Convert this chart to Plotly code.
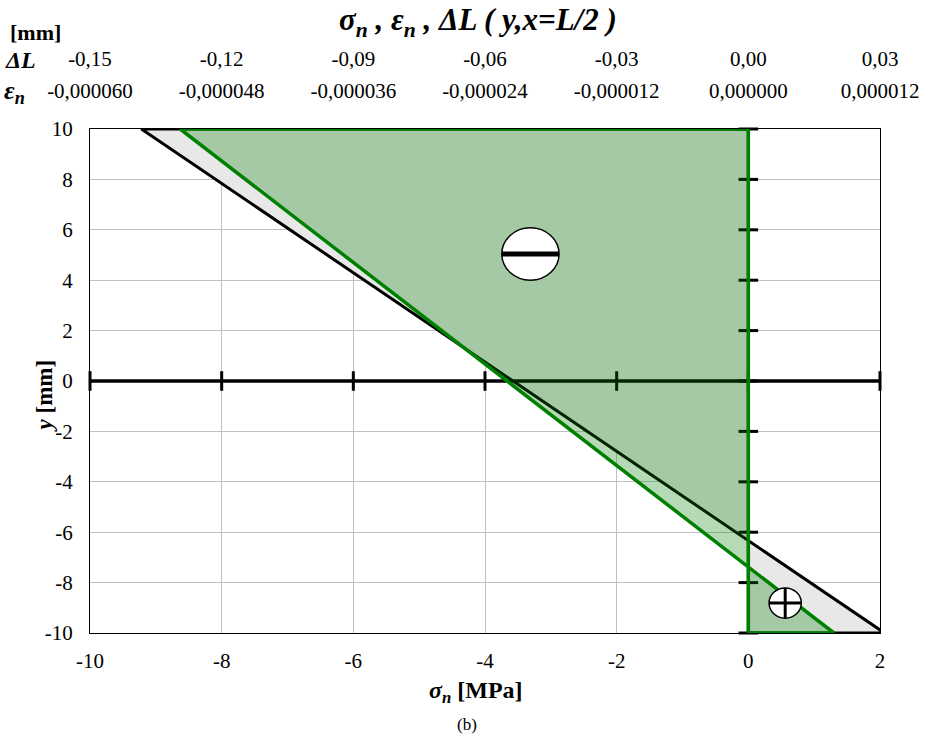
import plotly.graph_objects as go

# --- section geometry and stress values -----------------------------------
y_fibres = [10, -10]                 # top / bottom fibre [mm]
sigma_black = [-9.22, 2.07]          # normal stress, black solution [MPa]
sigma_green = [-8.63, 1.30]          # normal stress, green solution [MPa]

# --- axis ticks ------------------------------------------------------------
x_ticks = [-10, -8, -6, -4, -2, 0, 2]
x_labels = ["-10", "-8", "-6", "-4", "-2", "0", "2"]
y_ticks = [10, 8, 6, 4, 2, 0, -2, -4, -6, -8, -10]
y_labels = ["10", "8", "6", "4", "2", "0", "-2", "-4", "-6", "-8", "-10"]
dl_ticks = [-0.15, -0.12, -0.09, -0.06, -0.03, 0.00, 0.03]
dl_labels = ["-0,15", "-0,12", "-0,09", "-0,06", "-0,03", "0,00", "0,03"]
eps_ticks = [-0.000060, -0.000048, -0.000036, -0.000024, -0.000012, 0.0, 0.000012]
eps_labels = ["-0,000060", "-0,000048", "-0,000036", "-0,000024",
              "-0,000012", "0,000000", "0,000012"]

# sign markers (centre x, centre y, half-width, half-height)
minus_sign = (-3.31, 5.04, 0.435, 1.04)
plus_sign = (0.56, -8.81, 0.245, 0.60)

FONT = "Liberation Serif, Times New Roman, serif"
GREEN = "#008000"


def stress_polygon(sig):
    # closed outline: axis at top -> top fibre -> bottom fibre -> axis at bottom
    xs = [0, sig[0], sig[1], 0, 0]
    ys = [y_fibres[0], y_fibres[0], y_fibres[1], y_fibres[1], y_fibres[0]]
    return xs, ys


fig = go.Figure()

bx, by = stress_polygon(sigma_black)
fig.add_trace(go.Scatter(x=bx, y=by, mode="lines", fill="toself",
                         fillcolor="#e8e8e8",
                         line=dict(color="black", width=3),
                         hoverinfo="skip", showlegend=False))

# neutral x-axis through y = 0 with crossing ticks
fig.add_trace(go.Scatter(x=[x_ticks[0], x_ticks[-1]], y=[0, 0], mode="lines",
                         line=dict(color="black", width=3.5),
                         hoverinfo="skip", showlegend=False))
fig.add_trace(go.Scatter(x=x_ticks, y=[0] * len(x_ticks), mode="markers",
                         marker=dict(symbol="line-ns", size=14,
                                     line=dict(color="black", width=3)),
                         cliponaxis=False, hoverinfo="skip", showlegend=False))
# vertical axis through sigma = 0 with crossing ticks
fig.add_trace(go.Scatter(x=[0] * len(y_ticks), y=y_ticks, mode="markers",
                         marker=dict(symbol="line-ew", size=14,
                                     line=dict(color="black", width=3)),
                         cliponaxis=False, hoverinfo="skip", showlegend=False))

gx, gy = stress_polygon(sigma_green)
fig.add_trace(go.Scatter(x=gx, y=gy, mode="lines", fill="toself",
                         fillcolor="rgba(0,128,0,0.29)",
                         line=dict(color=GREEN, width=3.5),
                         hoverinfo="skip", showlegend=False))

# invisible carriers for the two upper scales
fig.add_trace(go.Scatter(x=dl_ticks, y=[0] * len(dl_ticks), xaxis="x2",
                         mode="markers", marker=dict(opacity=0),
                         hoverinfo="skip", showlegend=False))
fig.add_trace(go.Scatter(x=eps_ticks, y=[0] * len(eps_ticks), xaxis="x3",
                         mode="markers", marker=dict(opacity=0),
                         hoverinfo="skip", showlegend=False))

# sign circles
shapes = []
cx, cy, rx, ry = minus_sign
shapes.append(dict(type="circle", xref="x", yref="y", x0=cx - rx, x1=cx + rx,
                   y0=cy - ry, y1=cy + ry, fillcolor="white",
                   line=dict(color="black", width=1.5)))
shapes.append(dict(type="line", xref="x", yref="y", x0=cx - rx, x1=cx + rx,
                   y0=cy, y1=cy, line=dict(color="black", width=5)))
cx, cy, rx, ry = plus_sign
shapes.append(dict(type="circle", xref="x", yref="y", x0=cx - rx, x1=cx + rx,
                   y0=cy - ry, y1=cy + ry, fillcolor="white",
                   line=dict(color="black", width=1.5)))
shapes.append(dict(type="line", xref="x", yref="y", x0=cx - rx, x1=cx + rx,
                   y0=cy, y1=cy, line=dict(color="black", width=3)))
shapes.append(dict(type="line", xref="x", yref="y", x0=cx, x1=cx,
                   y0=cy - ry, y1=cy + ry, line=dict(color="black", width=3)))


def label(text, x, y, size, xanchor="center", angle=0):
    return dict(text=text, xref="paper", yref="paper", x=x, y=y,
                xanchor=xanchor, yanchor="middle", textangle=angle,
                showarrow=False, font=dict(family=FONT, size=size, color="black"))


annotations = [
    label("<b><i>σ<sub>n</sub> , ε<sub>n</sub> , ΔL ( y,x=L/2 )</i></b>",
          0.491, 0.9653, 31),
    label("<b>[mm]</b>", -0.104, 0.9479, 22, xanchor="left"),
    label("<b><i>ΔL</i></b>", -0.110, 0.9052, 24, xanchor="left"),
    label("<b><i>ε<sub>n</sub></i></b>", -0.111, 0.8547, 26, xanchor="left"),
    label("<b><i>σ<sub>n</sub></i> [MPa]</b>", 0.489, -0.093, 24),
    label("(b)", 0.477, -0.1438, 17),
    label("<b><i>y</i> [mm]</b>", -0.058, 0.374, 23, angle=-90),
]

tick_font = dict(family=FONT, size=21, color="black")

fig.update_layout(
    width=925, height=742,
    margin=dict(l=90, r=45, t=0, b=109),
    paper_bgcolor="white", plot_bgcolor="white",
    showlegend=False,
    shapes=shapes, annotations=annotations,
    xaxis=dict(range=[x_ticks[0], x_ticks[-1]], tickvals=x_ticks,
               ticktext=x_labels, tickfont=tick_font, automargin=False,
               showgrid=True, gridcolor="#c0c0c0", gridwidth=1,
               zeroline=False, showline=True, linecolor="black", linewidth=1,
               mirror=True, ticks="outside", ticklen=9,
               tickcolor="rgba(0,0,0,0)"),
    yaxis=dict(range=[y_fibres[1], y_fibres[0]], tickvals=y_ticks,
               ticktext=y_labels, tickfont=tick_font, domain=[0, 504 / 633],
               automargin=False,
               showgrid=True, gridcolor="#c0c0c0", gridwidth=1,
               zeroline=False, showline=True, linecolor="black", linewidth=1,
               mirror=True, ticks="outside", ticklen=12,
               tickcolor="rgba(0,0,0,0)"),
    xaxis2=dict(overlaying="x", side="top", anchor="free", position=0.8894,
                range=[dl_ticks[0], dl_ticks[-1]], tickvals=dl_ticks,
                ticktext=dl_labels, tickfont=tick_font, showgrid=False,
                automargin=False,
                zeroline=False, showline=False, ticks=""),
    xaxis3=dict(overlaying="x", side="top", anchor="free", position=0.8389,
                range=[eps_ticks[0], eps_ticks[-1]], tickvals=eps_ticks,
                ticktext=eps_labels, tickfont=tick_font, showgrid=False,
                automargin=False,
                zeroline=False, showline=False, ticks=""),
)

fig.write_html("out.html")
